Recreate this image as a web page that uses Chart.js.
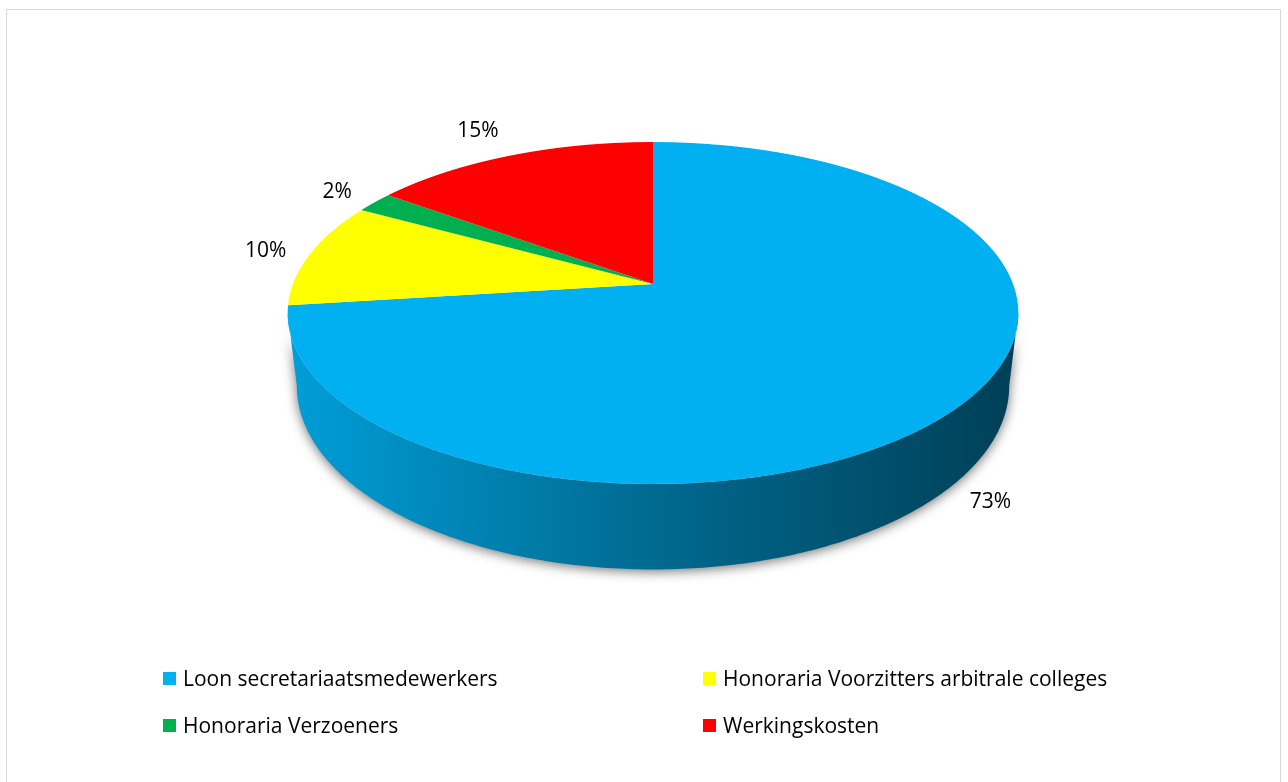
<!DOCTYPE html>
<html>
<head>
<meta charset="utf-8">
<script src="https://cdn.jsdelivr.net/npm/chart.js@4.4.1/dist/chart.umd.min.js"></script>
<style>
    html, body { margin: 0; padding: 0; background: #fff; overflow: hidden; }
    #frame { position: absolute; left: 6px; top: 9px; width: 1273px; height: 790px; border: 1px solid #d9d9d9; }
    #wrap { position: absolute; left: 0; top: 0; width: 1288px; height: 782px; }
    #legend {
        position: absolute; left: 163px; top: 665px;
        display: grid; grid-template-columns: 540px auto; grid-auto-rows: 26px; row-gap: 21px;
        font: 21px "Open Sans", sans-serif; color: #000;
    }
    .item { display: flex; align-items: center; white-space: nowrap; }
    .swatch { width: 13px; height: 13px; margin-right: 7px; }
</style>
</head>
<body>
<div id="frame"></div>
<div id="wrap"><canvas id="pieChart"></canvas></div>
<div id="legend"></div>
<script>
// Data
const labels = ['Loon secretariaatsmedewerkers', 'Honoraria Voorzitters arbitrale colleges', 'Honoraria Verzoeners', 'Werkingskosten'];
const values = [73, 10, 2, 15];
const colors = ['#00B0F0', '#FFFF00', '#00B050', '#FF0000'];

// Perspective view of the disc (screen px)
const VIEW = {
    cx: 653,
    horizon: -695,
    topA: 360, topB: 979,   // top face
    botA: 351, botB: 1050,  // bottom rim
    k: 0.1696,              // depth factor
    labelGap: 24
};

function project(u, v, bottom) {
    const z = 1 - VIEW.k * v;
    return {
        x: VIEW.cx + (bottom ? VIEW.botA : VIEW.topA) * u / z,
        y: VIEW.horizon + (bottom ? VIEW.botB : VIEW.topB) / z
    };
}

function shade(hex, f) {
    const n = parseInt(hex.slice(1), 16);
    const r = Math.round(((n >> 16) & 255) * f);
    const g = Math.round(((n >> 8) & 255) * f);
    const b = Math.round((n & 255) * f);
    return `rgb(${r},${g},${b})`;
}

const midAngle = a => (a.startAngle + a.endAngle) / 2;

// side walls, only the part that faces the viewer
function drawWalls(ctx, arcs) {
    const tA = Math.asin(VIEW.k), tB = Math.PI - tA;
    const sorted = arcs.slice().sort((a, b) => Math.sin(midAngle(a)) - Math.sin(midAngle(b)));
    sorted.forEach(arc => {
        const a0 = Math.max(arc.startAngle, tA);
        const a1 = Math.min(arc.endAngle, tB);
        if (a1 <= a0) return;
        const steps = Math.max(2, Math.ceil((a1 - a0) * 80));
        ctx.save();
        ctx.beginPath();
        for (let i = 0; i <= steps; i++) {
            const t = a0 + (a1 - a0) * i / steps;
            const p = project(Math.cos(t), Math.sin(t), false);
            if (i === 0) ctx.moveTo(p.x, p.y); else ctx.lineTo(p.x, p.y);
        }
        for (let i = steps; i >= 0; i--) {
            const t = a0 + (a1 - a0) * i / steps;
            const p = project(Math.cos(t), Math.sin(t), true);
            ctx.lineTo(p.x, p.y);
        }
        ctx.closePath();
        const half = VIEW.topA * 1.015;
        const grad = ctx.createLinearGradient(VIEW.cx - half, 0, VIEW.cx + half, 0);
        const base = arc.options.backgroundColor;
        grad.addColorStop(0, shade(base, 0.9));
        grad.addColorStop(0.5, shade(base, 0.6));
        grad.addColorStop(1, shade(base, 0.36));
        ctx.fillStyle = grad;
        ctx.shadowColor = 'rgba(0,0,0,0.55)';
        ctx.shadowBlur = 12;
        ctx.shadowOffsetY = 2;
        ctx.fill();
        ctx.restore();
    });
}

// top face: the chart's own arcs, drawn row by row with a local affine map
function drawTop(ctx, arcs, width) {
    const { cx, horizon, topA, topB, k } = VIEW;
    const yOf = v => horizon + topB / (1 - k * v);
    const vOf = y => (1 - topB / (y - horizon)) / k;
    const y0 = Math.floor(yOf(-1)) - 2, y1 = Math.ceil(yOf(1)) + 2;
    const ax = arcs[0].x, ay = arcs[0].y, R = arcs[0].outerRadius;
    for (let y = y0; y < y1; y++) {
        const va = vOf(y), vb = vOf(y + 1);
        const sx = topA / (1 - k * (va + vb) / 2) / R;
        const sy = 1 / (vb - va) / R;
        ctx.save();
        ctx.beginPath();
        ctx.rect(0, y, width, 1);
        ctx.clip();
        ctx.transform(sx, 0, 0, sy, cx - sx * ax, y - va * sy * R - sy * ay);
        arcs.forEach(a => a.draw(ctx));
        ctx.restore();
    }
}

function drawLabels(ctx, arcs) {
    const total = values.reduce((s, v) => s + v, 0);
    ctx.save();
    ctx.font = '21px "Open Sans", sans-serif';
    ctx.fillStyle = '#000';
    ctx.textAlign = 'center';
    ctx.textBaseline = 'middle';
    arcs.forEach((arc, i) => {
        const m = midAngle(arc);
        const u = Math.cos(m), v = Math.sin(m);
        const front = v > VIEW.k;
        const p = project(u, v, front);
        const c = project(0, 0, front);
        const len = Math.hypot(p.x - c.x, p.y - c.y);
        const dx = (p.x - c.x) / len, dy = (p.y - c.y) / len;
        const text = Math.round(values[i] / total * 100) + '%';
        const hw = ctx.measureText(text).width / 2, hh = 12;
        ctx.fillText(text, p.x + dx * (VIEW.labelGap + hw), p.y + dy * (VIEW.labelGap + hh));
    });
    ctx.restore();
}

const pie3d = {
    id: 'pie3d',
    beforeDatasetsDraw(chart) {
        const arcs = chart.getDatasetMeta(0).data;
        drawWalls(chart.ctx, arcs);
        drawTop(chart.ctx, arcs, chart.width);
        return false;
    },
    afterDraw(chart) {
        drawLabels(chart.ctx, chart.getDatasetMeta(0).data);
    }
};

new Chart(document.getElementById('pieChart'), {
    type: 'pie',
    data: {
        labels: labels,
        datasets: [{
            data: values,
            backgroundColor: colors,
            borderWidth: 0
        }]
    },
    options: {
        responsive: true,
        maintainAspectRatio: false,
        animation: false,
        events: [],
        plugins: {
            legend: { display: false },
            tooltip: { enabled: false }
        }
    },
    plugins: [pie3d]
});

// legend, two columns like the original
const legendEl = document.getElementById('legend');
labels.forEach((name, i) => {
    const item = document.createElement('div');
    item.className = 'item';
    item.innerHTML = `<span class="swatch" style="background:${colors[i]}"></span><span>${name}</span>`;
    legendEl.appendChild(item);
});
</script>
</body>
</html>
